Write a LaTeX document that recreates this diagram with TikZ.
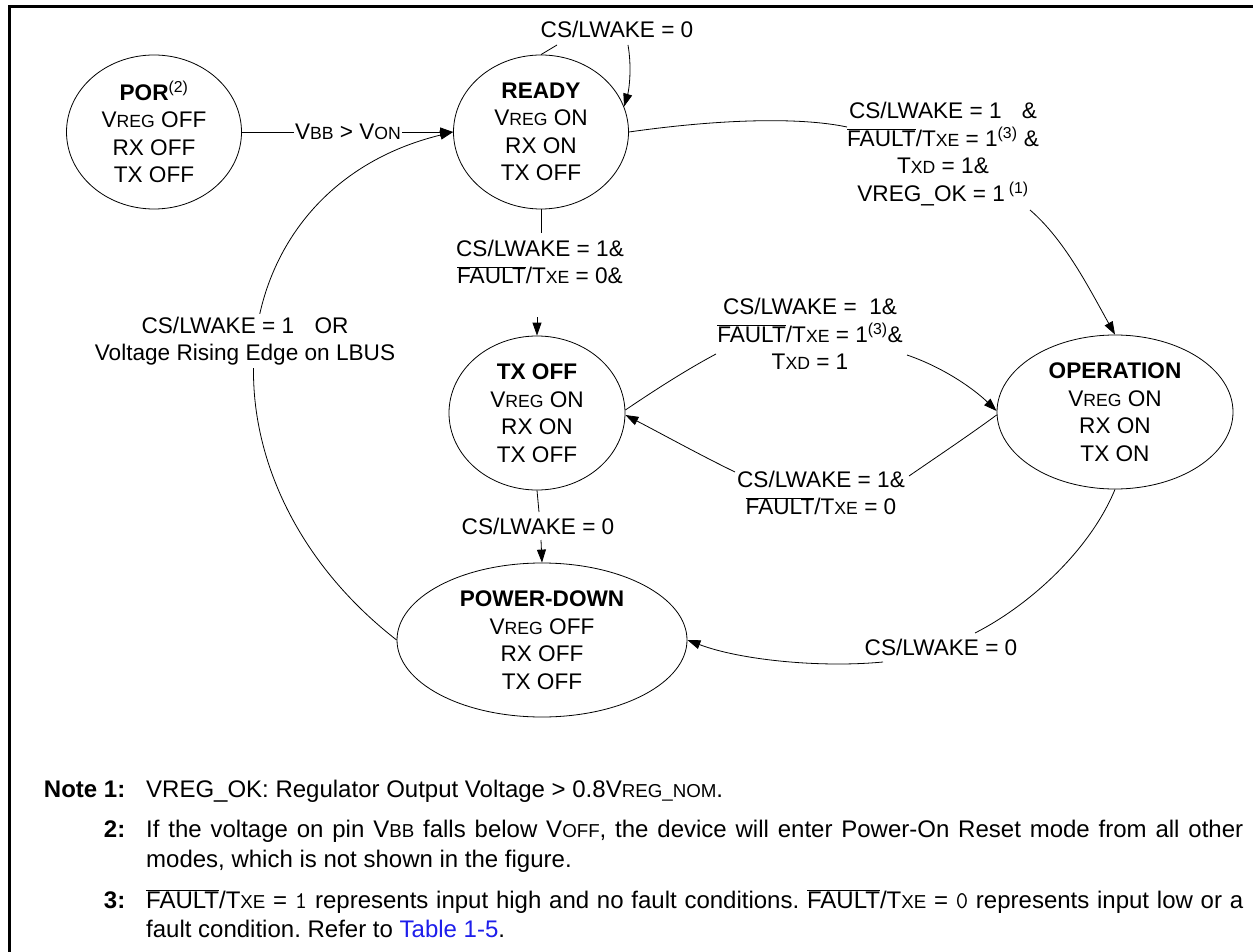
\documentclass[tikz,border=0pt]{standalone}
\usepackage{fontspec}
\setmainfont{Liberation Sans}
\usetikzlibrary{shapes.geometric,arrows.meta}
\definecolor{linkblue}{RGB}{30,30,235}
\makeatletter
\newcommand\smc[1]{{\fontsize{\dimexpr\f@size pt*78/100\relax}{\f@baselineskip}\selectfont #1}}
\makeatother
\newcommand\ovl[1]{$\overline{\hbox{#1}}$}
\newcommand\dfont{\fontsize{22.6}{27.5}\selectfont}
\newcommand\nfont{\fontsize{24}{30}\selectfont}
\frenchspacing
\begin{document}
\begin{tikzpicture}[x=1pt,y=-1pt,
  state/.style={ellipse,draw,line width=0.8pt,inner sep=0pt,align=center,font=\dfont},
  lbl/.style={align=center,inner sep=1.5pt,font=\dfont},
  wire/.style={line width=0.8pt},
  conn/.style={line width=0.8pt,-{Triangle[length=13pt,width=9pt]}},
  notenum/.style={inner sep=0pt,font=\nfont\bfseries,anchor=base east},
  notetext/.style={inner sep=0pt,font=\nfont,anchor=base west}]
\useasboundingbox (0,0) rectangle (1253,952);
\fill[white] (0,0) rectangle (1253,952);
\draw[line width=2.7pt] (1253,6.5) -- (9.3,6.5) -- (9.3,952);

% states
\node[state,minimum width=175pt,minimum height=154pt] (por) at (154,132)
  {\textbf{POR}\textsuperscript{(2)}\\V\smc{REG} OFF\\RX OFF\\TX OFF};
\node[state,minimum width=175pt,minimum height=154pt] (ready) at (541,132)
  {\textbf{READY}\\V\smc{REG} ON\\RX ON\\TX OFF};
\node[state,minimum width=176pt,minimum height=154pt] (txoff) at (537,413)
  {\textbf{TX OFF}\\V\smc{REG} ON\\RX ON\\TX OFF};
\node[state,minimum width=236pt,minimum height=154pt] (oper) at (1115,412)
  {\textbf{OPERATION}\\V\smc{REG} ON\\RX ON\\TX ON};
\node[state,minimum width=290pt,minimum height=154pt] (pd) at (542,640)
  {\textbf{POWER-DOWN}\\V\smc{REG} OFF\\RX OFF\\TX OFF};

% connector end points at labels
\coordinate (s1) at (557,45);
\coordinate (s2) at (628,45);
\coordinate (ro1) at (847,127);
\coordinate (ro2) at (1030,210);
\coordinate (rt1) at (541,233);
\coordinate (rt2) at (537,317);
\coordinate (u1) at (716,354);
\coordinate (u2) at (907,355);
\coordinate (w1) at (909,476);
\coordinate (w2) at (735,472);
\coordinate (tp1) at (539,512);
\coordinate (tp2) at (541,540);
\coordinate (op1) at (975,633);
\coordinate (op2) at (883,662);

% connectors
\draw[conn] (por.east) -- (ready.west);
\draw[wire] (ready.north) -- (s1);
\draw[conn] (s2) .. controls (632,68) and (629,90) .. (ready.17);
\draw[wire] (ready.east) .. controls (720,119) and (800,117) .. (ro1);
\draw[conn] (ro2) .. controls (1065,240) and (1090,290) .. (oper.north);
\draw[wire] (ready.south) -- (rt1);
\draw[conn] (rt2) -- (txoff.north);
\draw[wire] ([yshift=3pt]txoff.east) .. controls (655,390) and (686,370) .. (u1);
\draw[conn] (u2) .. controls (945,368) and (975,390) .. ([yshift=1pt]oper.west);
\draw[wire] ([yshift=-3pt]oper.west) .. controls (968,436) and (938,456) .. (w1);
\draw[conn] (w2) .. controls (700,455) and (662,434) .. ([yshift=-2pt]txoff.east);
\draw[wire] (txoff.south) -- (tp1);
\draw[conn] (tp2) -- (pd.north);
\draw[wire] (oper.south) .. controls (1090,550) and (1030,605) .. (op1);
\draw[conn] (op2) .. controls (820,668) and (740,660) .. (pd.east);
\draw[conn] (pd.west) .. controls (185,475) and (215,190) .. (ready.west);

% labels
\node[lbl,fill=white,inner sep=1pt] (lvbb) at (348,132) {V\smc{BB} > V\smc{ON}};
\node[lbl] (lself) at (617,29) {CS/LWAKE = 0};
\node[lbl] (lro) at (943,154) {CS/LWAKE = 1\hspace{0.9em}\&\\
  \ovl{FAULT}/T\smc{XE} = 1\textsuperscript{(3)} \&\\
  T\smc{XD} = 1\&\\
  VREG\_OK = 1\,\textsuperscript{(1)}};
\node[lbl] (lrt) at (540,262) {CS/LWAKE = 1\&\\\ovl{FAULT}/T\smc{XE} = 0\&};
\node[lbl] (lup) at (810,334) {CS/LWAKE = \ 1\&\\\ovl{FAULT}/T\smc{XE} = 1\textsuperscript{(3)}\&\\T\smc{XD} = 1};
\node[lbl] (llow) at (821,493) {CS/LWAKE = 1\&\\\ovl{FAULT}/T\smc{XE} = 0};
\node[lbl] (ltp) at (538,526) {CS/LWAKE = 0};
\node[lbl] (lopd) at (941,647) {CS/LWAKE = 0};
\node[lbl,fill=white,inner sep=3pt] (lwake) at (245,341) {CS/LWAKE = 1\hspace{0.9em}OR\\Voltage Rising Edge on LBUS};

% notes
\node[notenum] (n1l) at (125.5,797) {Note 1:};
\node[notetext] (n1) at (146,797) {VREG\_OK: Regulator Output Voltage > 0.8V\smc{REG\_NOM}.};
\node[notenum] (n2l) at (125.5,837) {2:};
\node[notetext] (n2a) at (146,837) {\makebox[1097pt][s]{If the voltage on pin V\smc{BB} falls below V\smc{OFF}, the device will enter Power-On Reset mode from all other}};
\node[notetext] (n2b) at (146,867) {modes, which is not shown in the figure.};
\node[notenum] (n3l) at (125.5,908) {3:};
\node[notetext] (n3a) at (146,908) {\makebox[1097pt][s]{\ovl{FAULT}/T\smc{XE} = \texttt{1} represents input high and no fault conditions. \ovl{FAULT}/T\smc{XE} = \texttt{0} represents input low or a}};
\node[notetext] (n3b) at (146,937) {fault condition. Refer to \textcolor{linkblue}{Table 1-5}.};
\end{tikzpicture}
\end{document}
